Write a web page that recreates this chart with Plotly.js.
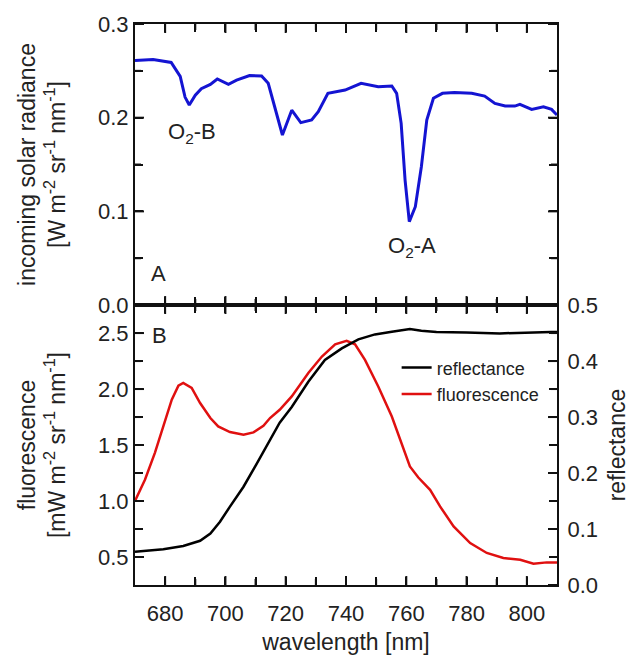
<!DOCTYPE html>
<html>
<head>
<meta charset="utf-8">
<script src="https://cdn.plot.ly/plotly-3.0.1.min.js"></script>
<style>html,body{margin:0;padding:0;background:#fff;}#chart{width:630px;height:655px;}</style>
</head>
<body>
<div id="chart"></div>
<script>
// Panel A: incoming solar radiance
const solarWavelength = [670, 676, 682, 685, 686.6, 688, 690, 692, 695, 697.3, 701, 703.7, 708, 712, 714.2, 716.4, 718.9, 722, 725, 728.6, 730.8, 734, 739.7, 745, 750.7, 755.2, 756.8, 758.3, 759.6, 761, 763, 765, 766.8, 769, 772, 776, 781.7, 786, 789.4, 792.8, 796, 797.7, 801.6, 805.5, 808.2, 810];
const solarRadiance = [0.261, 0.262, 0.259, 0.244, 0.222, 0.2135, 0.224, 0.231, 0.2355, 0.2413, 0.2355, 0.240, 0.245, 0.2445, 0.2367, 0.2117, 0.1815, 0.208, 0.1947, 0.1975, 0.2064, 0.226, 0.2295, 0.2367, 0.233, 0.2338, 0.226, 0.194, 0.1334, 0.089, 0.105, 0.1476, 0.1975, 0.2207, 0.226, 0.227, 0.226, 0.2231, 0.2153, 0.2124, 0.2124, 0.2142, 0.2089, 0.2117, 0.2089, 0.2028];

// Panel B: fluorescence (left axis)
const fluoWavelength = [670, 673.3, 676.6, 679.4, 682.2, 684.4, 686, 688.8, 691.6, 695, 697.6, 701.5, 706, 709.3, 712.6, 714.8, 718, 722, 727.5, 732, 736.4, 740.2, 743, 746.3, 750.7, 755.2, 758.5, 761.2, 764, 767.9, 771.2, 775.7, 781.2, 786.7, 792.2, 797.8, 802.2, 806.6, 810];
const fluorescence = [1.00, 1.19, 1.43, 1.666, 1.905, 2.03, 2.054, 2.01, 1.875, 1.741, 1.666, 1.616, 1.592, 1.613, 1.672, 1.741, 1.815, 1.934, 2.143, 2.29, 2.40, 2.43, 2.40, 2.26, 2.023, 1.755, 1.518, 1.309, 1.21, 1.10, 0.952, 0.773, 0.625, 0.536, 0.491, 0.476, 0.44, 0.452, 0.452];

// Panel B: reflectance (right axis)
const reflWavelength = [670, 679.4, 686, 691.6, 695, 698.2, 701.5, 706, 710.4, 714.8, 718, 722, 727.5, 733, 738.6, 744.1, 749.6, 755.2, 761.2, 765, 770, 780, 791, 808, 810];
const reflectance = [0.0595, 0.0637, 0.0696, 0.079, 0.092, 0.113, 0.14, 0.1755, 0.217, 0.259, 0.29, 0.318, 0.363, 0.402, 0.4226, 0.4387, 0.4476, 0.4524, 0.457, 0.454, 0.4518, 0.451, 0.4494, 0.4518, 0.452];

// Ticks (labelled majors, unlabelled minors)
const xTickVals  = [680, 690, 700, 710, 720, 730, 740, 750, 760, 770, 780, 790, 800];
const xTickText  = ['680', '', '700', '', '720', '', '740', '', '760', '', '780', '', '800'];
const solarTickVals = [0.0, 0.05, 0.1, 0.15, 0.2, 0.25, 0.3];
const solarTickText = ['0.0', '', '0.1', '', '0.2', '', '0.3'];
const fluoTickVals = [0.5, 0.75, 1.0, 1.25, 1.5, 1.75, 2.0, 2.25, 2.5];
const fluoTickText = ['0.5', '', '1.0', '', '1.5', '', '2.0', '', '2.5'];
const reflTickVals = [0.0, 0.05, 0.1, 0.15, 0.2, 0.25, 0.3, 0.35, 0.4, 0.45, 0.5];
const reflTickText = ['0.0', '', '0.1', '', '0.2', '', '0.3', '', '0.4', '', '0.5'];
const seriesNames = ['reflectance', 'fluorescence'];

const FONT = 'Liberation Sans, Arial, sans-serif';
const TXT = '#222';
const AX = '#111';

const traces = [
  {x: reflWavelength, y: reflectance, type: 'scatter', mode: 'lines', name: seriesNames[0],
   xaxis: 'x', yaxis: 'y2', line: {color: '#000', width: 2.5}},
  {x: fluoWavelength, y: fluorescence, type: 'scatter', mode: 'lines', name: seriesNames[1],
   xaxis: 'x', yaxis: 'y', line: {color: '#e01010', width: 2.5}},
  {x: solarWavelength, y: solarRadiance, type: 'scatter', mode: 'lines', showlegend: false,
   xaxis: 'x2', yaxis: 'y3', line: {color: '#1414d2', width: 3}}
];

function axis(extra) {
  return Object.assign({
    showline: true, linecolor: AX, linewidth: 2, ticks: 'inside', ticklen: 8, tickwidth: 2,
    tickcolor: AX, showgrid: false, zeroline: false, tickmode: 'array',
    tickfont: {family: FONT, size: 22, color: TXT}
  }, extra);
}
const titleFont = {family: FONT, size: 23, color: TXT};

// Inward tick marks as shapes at the tick values, lengths as fractions of the panel
// (plot area is 422 px wide, each panel about 281 px tall); major 9 px, minor 6 px.
const PW = 422, PH = 281;
const tickShapes = [];
function tickLine(o) {
  tickShapes.push(Object.assign({type: 'line', line: {color: AX, width: 2}, layer: 'above'}, o));
}
function xTicks(xref, ydom) {
  xTickVals.forEach((v, i) => {
    const f = (xTickText[i] ? 9 : 6) / PH;
    tickLine({xref: xref, yref: ydom, x0: v, x1: v, y0: 0, y1: f});
    tickLine({xref: xref, yref: ydom, x0: v, x1: v, y0: 1, y1: 1 - f});
  });
}
function yTicks(yref, xdom, vals, texts, left, right) {
  vals.forEach((v, i) => {
    const f = (texts[i] ? 9 : 6) / PW;
    if (left) tickLine({xref: xdom, yref: yref, y0: v, y1: v, x0: 0, x1: f});
    if (right) tickLine({xref: xdom, yref: yref, y0: v, y1: v, x0: 1, x1: 1 - f});
  });
}
xTicks('x2', 'y3 domain');
xTicks('x', 'y domain');
yTicks('y3', 'x2 domain', solarTickVals, solarTickText, true, true);
yTicks('y', 'x domain', fluoTickVals, fluoTickText, true, false);
yTicks('y2', 'x domain', reflTickVals, reflTickText, false, true);

const layout = {
  width: 630, height: 655,
  margin: {l: 135, r: 73, t: 24, b: 70},
  paper_bgcolor: '#fff', plot_bgcolor: '#fff',
  font: {family: FONT, color: TXT, size: 21},
  showlegend: true,
  legend: {x: 0.62, y: 0.42, xanchor: 'left', yanchor: 'top', bgcolor: 'rgba(0,0,0,0)',
           font: {family: FONT, size: 18, color: TXT}, itemwidth: 30, tracegroupgap: 0},
  xaxis: axis({
    domain: [0, 1], anchor: 'y', range: [670, 810], tickvals: xTickVals, ticktext: xTickText,
    mirror: 'ticks', ticklabelstandoff: 8,
    title: {text: 'wavelength [nm]', font: titleFont, standoff: 17}
  }),
  yaxis: axis({
    domain: [0, 0.499], anchor: 'x', range: [0.25, 2.75], tickvals: fluoTickVals, ticktext: fluoTickText,
    title: {text: 'fluorescence<br>[mW m<sup>-2</sup> sr<sup>-1</sup> nm<sup>-1</sup>]', font: titleFont, standoff: 26}
  }),
  yaxis2: axis({
    overlaying: 'y', side: 'right', anchor: 'x', range: [0, 0.5], tickvals: reflTickVals, ticktext: reflTickText,
    ticklabelstandoff: 4,
    title: {text: 'reflectance', font: titleFont, standoff: 22}
  }),
  xaxis2: axis({
    domain: [0, 1], anchor: 'y3', range: [670, 810], tickvals: xTickVals, ticktext: xTickText,
    mirror: 'ticks', showticklabels: false
  }),
  yaxis3: axis({
    domain: [0.499, 1], anchor: 'x2', range: [0, 0.3], tickvals: solarTickVals, ticktext: solarTickText,
    mirror: 'ticks',
    title: {text: 'incoming solar radiance<br>[W m<sup>-2</sup> sr<sup>-1</sup> nm<sup>-1</sup>]', font: titleFont, standoff: 26}
  }),
  shapes: tickShapes,
  annotations: [
    {text: 'O<sub>2</sub>-B', xref: 'x2', yref: 'y3', x: 689, y: 0.184, showarrow: false,
     xanchor: 'center', yanchor: 'middle', font: {family: FONT, size: 22, color: TXT}},
    {text: 'O<sub>2</sub>-A', xref: 'x2', yref: 'y3', x: 762, y: 0.062, showarrow: false,
     xanchor: 'center', yanchor: 'middle', font: {family: FONT, size: 22, color: TXT}},
    {text: 'A', xref: 'x2 domain', yref: 'y3 domain', x: 0.055, y: 0.114, showarrow: false,
     xanchor: 'center', yanchor: 'middle', font: {family: FONT, size: 22, color: TXT}},
    {text: 'B', xref: 'x domain', yref: 'y domain', x: 0.057, y: 0.893, showarrow: false,
     xanchor: 'center', yanchor: 'middle', font: {family: FONT, size: 22, color: TXT}}
  ]
};

Plotly.newPlot('chart', traces, layout, {displayModeBar: false, staticPlot: true});
</script>
</body>
</html>
